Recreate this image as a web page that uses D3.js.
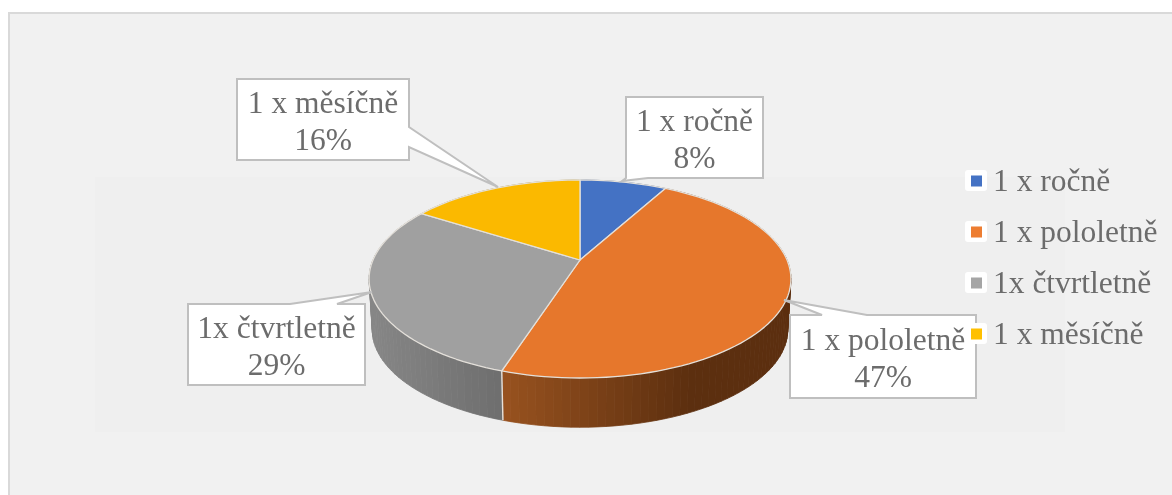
<!DOCTYPE html>
<html><head><meta charset="utf-8">
<script src="https://cdn.jsdelivr.net/npm/d3@7"></script>
<style>html,body{margin:0;padding:0;background:#fff;overflow:hidden}svg{display:block;filter:blur(0.45px)}text{font-family:"Liberation Serif",serif}</style>
</head><body><svg id="c" width="1172" height="495"></svg>
<script>
const categories=["1 x ročně","1 x pololetně","1x čtvrtletně","1 x měsíčně"];
const values=[8,47,29,16];
const colors=["#4472c4","#e6772c","#a0a0a0","#fbb900"];
const legendColors=["#4472c4","#ed7d31","#a5a5a5","#ffc000"];
const wallLeft=["#3a5f9f","#98521f","#868686","#c09000"];
const wallRight=["#2f4d80","#5c2f0f","#6e6e6e","#a07800"];
const calloutText=[["1 x ročně","8%"],["1 x pololetně","47%"],["1x čtvrtletně","29%"],["1 x měsíčně","16%"]];

const svg=d3.select("#c");
svg.append("rect").attr("x",9).attr("y",13).attr("width",1200).attr("height",520)
  .attr("fill","#f1f1f1").attr("stroke","#d9d9d9").attr("stroke-width",2);
svg.append("rect").attr("x",95).attr("y",177).attr("width",970).attr("height",255).attr("fill","#efefef");

// perspective disc: apex at (cx,cy), rim from the projection
const cx=580,cy=260,a=207,b=95.35,k=0.192;
const proj=(ang,r,dy,s)=>{const u=r*Math.sin(ang),v=r*Math.cos(ang),w=1+k*v;
  return [cx+s*a*u/w, cy+dy-s*b*v/w];};
const arcs=d3.pie().sort(null).value(d=>d)(values);
const line=d3.line();
const STEP=Math.PI/90;
const angs=(s,e)=>{const n=Math.max(2,Math.ceil((e-s)/STEP));return d3.range(n+1).map(i=>s+(e-s)*i/n);};
const depth=51,bottomScale=0.985;

// side walls, drawn as narrow shaded strips
const wall=svg.append("g");
arcs.forEach((d,i)=>{
  const as=angs(d.startAngle,d.endAngle);
  const xScale=d3.scaleLinear().domain(i===1?[502,690]:[372,502]).range([0,1]).clamp(true);
  const col=d3.interpolateRgb(wallLeft[i],wallRight[i]);
  for(let j=0;j<as.length-1;j++){
    const t0=proj(as[j],1,0,1),t1=proj(as[j+1],1,0,1),
          b1=proj(as[j+1],1,depth,bottomScale),b0=proj(as[j],1,depth,bottomScale);
    const c=col(xScale((t0[0]+t1[0])/2));
    wall.append("path").attr("d",line([t0,t1,b1,b0])+"Z")
      .attr("fill",c).attr("stroke",c).attr("stroke-width",0.8);
  }
});
// light seam between front walls
const seamA=arcs[1].endAngle;
svg.append("path").attr("d",line([proj(seamA,1,0,1),proj(seamA,1,depth,bottomScale)]))
  .attr("stroke","#e8e0d8").attr("stroke-width",1.4).attr("fill","none");

// top faces
svg.append("g").selectAll("path").data(arcs).join("path")
  .attr("d",d=>line([[cx,cy],...angs(d.startAngle,d.endAngle).map(x=>proj(x,1,0,1))])+"Z")
  .attr("fill",(d,i)=>colors[i]).attr("stroke","#e4e0da").attr("stroke-width",1.3).attr("stroke-linejoin","round");

// callouts
const boxes=[[626,97,763,178],[790,315,976,398],[188,304,365,385],[237,79,409,160]];
const outline=[
  [[626,97],[763,97],[763,178],[648,178],[622,181],[626,178]],
  [[790,315],[822,315],[784,300],[867,315],[976,315],[976,398],[790,398]],
  [[188,304],[290,304],[372,292],[337,304],[365,304],[365,385],[188,385]],
  [[237,79],[409,79],[409,127],[498,187],[409,147],[409,160],[237,160]]
];
const cg=svg.append("g");
outline.forEach((o,i)=>{
  const r=boxes[i],xm=(r[0]+r[2])/2;
  cg.append("path").attr("d",line(o)+"Z").attr("fill","#fff").attr("stroke","#bfbfbf").attr("stroke-width",2).attr("stroke-linejoin","miter");
  const ymid=(r[1]+r[3])/2;
  calloutText[i].forEach((t,j)=>{
    cg.append("text").attr("x",xm).attr("y",ymid+(j===0?-7:30)).attr("text-anchor","middle")
      .attr("font-size",31.5).attr("fill","#6c6c6c").text(t);
  });
});

// legend
const legY=d3.scalePoint().domain(categories).range([181,334]);
const lg=svg.append("g").selectAll("g").data(categories).join("g")
  .attr("transform",d=>`translate(965,${legY(d)})`);
lg.append("rect").attr("x",0).attr("y",-11).attr("width",22).attr("height",21).attr("rx",3).attr("fill","#fff");
lg.append("rect").attr("x",6).attr("y",-5.5).attr("width",11).attr("height",11).attr("fill",(d,i)=>legendColors[i]);
lg.append("text").attr("x",28).attr("y",10).attr("font-size",31.5).attr("fill","#6c6c6c").text(d=>d);
</script></body></html>
